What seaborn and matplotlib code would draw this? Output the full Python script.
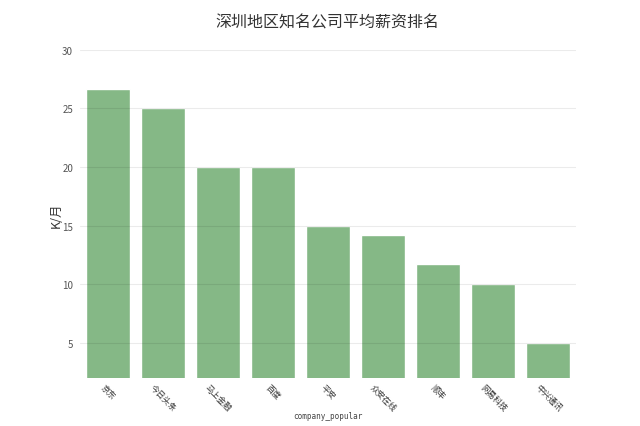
import seaborn as sns
import matplotlib.pyplot as plt
import pandas as pd

companies = ["京东", "今日头条", "马上金融", "百度", "平安", "众安在线", "顺丰", "网易科技", "中兴通讯"]
salary = [26.7, 25.0, 20.0, 20.0, 15.0, 14.2, 11.7, 10.0, 5.0]
yticks = [5, 10, 15, 20, 25, 30]

df = pd.DataFrame({"company_popular": companies, "salary": salary})

sns.set_style("white")
plt.rcParams['font.family'] = ['Noto Sans CJK SC', 'DejaVu Sans']

fig = plt.figure(figsize=(6.4, 4.27), dpi=100)
ax = fig.add_axes([0.125, 0.112, 0.775, 0.769])
sns.barplot(data=df, x="company_popular", y="salary", color="#85b886",
            saturation=1, width=0.8, ax=ax, zorder=1)
ax.set_axisbelow(False)
ax.yaxis.grid(True, color="#000000", alpha=0.08, linewidth=0.8, zorder=2)
ax.set_xlim(-0.5, 8.5)
ax.set_ylim(2, 30)
ax.set_yticks(yticks)
ax.tick_params(axis="y", labelsize=7, labelcolor="#555555", length=0, pad=5)
ax.tick_params(axis="x", length=0, pad=3)
for lab in ax.get_xticklabels():
    lab.set_rotation(-45)
    lab.set_fontsize(6)
    lab.set_color("#333333")
    lab.set_ha("center")
    lab.set_va("top")
for s in ax.spines.values():
    s.set_visible(False)

ax.set_ylabel("K/月", fontsize=9, color="#333333")
ax.yaxis.set_label_coords(-0.035, 0.5)
ax.set_xlabel("company_popular", fontsize=5.5, color="#444444",
              family="DejaVu Sans Mono")
ax.xaxis.set_label_coords(0.5, -0.1)
fig.suptitle("深圳地区知名公司平均薪资排名", x=0.512, y=0.965, fontsize=11.5, color="#333333")

plt.savefig("out.png", dpi=100)
